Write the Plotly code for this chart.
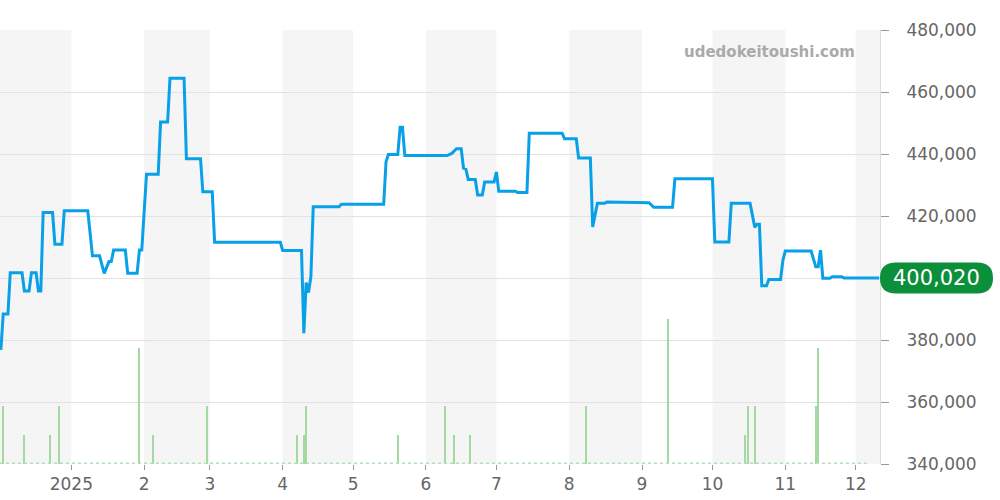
import plotly.graph_objects as go

# ---- price series (date, yen) ----
price_dates = [
    "2024-12-02", "2024-12-03", "2024-12-05", "2024-12-06", "2024-12-11", "2024-12-12",
    "2024-12-14", "2024-12-15", "2024-12-17", "2024-12-18", "2024-12-19", "2024-12-20",
    "2024-12-24", "2024-12-25", "2024-12-28", "2024-12-29", "2025-01-08", "2025-01-10",
    "2025-01-13", "2025-01-15", "2025-01-17", "2025-01-18", "2025-01-19", "2025-01-24",
    "2025-01-25", "2025-01-29", "2025-01-30", "2025-01-31", "2025-02-02", "2025-02-07",
    "2025-02-08", "2025-02-11", "2025-02-12", "2025-02-18", "2025-02-19", "2025-02-25",
    "2025-02-26", "2025-03-02", "2025-03-03", "2025-03-31", "2025-04-01", "2025-04-09",
    "2025-04-10", "2025-04-11", "2025-04-12", "2025-04-13", "2025-04-14", "2025-04-25",
    "2025-04-26", "2025-05-14", "2025-05-15", "2025-05-16", "2025-05-20", "2025-05-21",
    "2025-05-22", "2025-05-23", "2025-06-10", "2025-06-12", "2025-06-14", "2025-06-16",
    "2025-06-17", "2025-06-18", "2025-06-19", "2025-06-22", "2025-06-23", "2025-06-25",
    "2025-06-26", "2025-06-30", "2025-07-01", "2025-07-02", "2025-07-09", "2025-07-10",
    "2025-07-14", "2025-07-15", "2025-07-29", "2025-07-30", "2025-08-04", "2025-08-05",
    "2025-08-10", "2025-08-11", "2025-08-13", "2025-08-16", "2025-08-17", "2025-09-01",
    "2025-09-04", "2025-09-06", "2025-09-14", "2025-09-15", "2025-10-01", "2025-10-02",
    "2025-10-08", "2025-10-09", "2025-10-17", "2025-10-19", "2025-10-20", "2025-10-21",
    "2025-10-22", "2025-10-24", "2025-10-25", "2025-10-30", "2025-10-31", "2025-11-01",
    "2025-11-12", "2025-11-14", "2025-11-15", "2025-11-16", "2025-11-17", "2025-11-20",
    "2025-11-21", "2025-11-25", "2025-11-26", "2025-12-11",
]
price_values = [
    376800, 388400, 388400, 401700, 401700, 395800,
    395800, 401700, 401700, 395800, 395800, 421100,
    421100, 410900, 410900, 421700, 421700, 407200,
    407200, 401500, 405300, 405300, 409000, 409000,
    401500, 401500, 409000, 409000, 433500, 433500,
    450300, 450300, 464400, 464400, 438500, 438500,
    427800, 427800, 411500, 411500, 408900, 408900,
    382200, 398500, 395300, 400400, 423000, 423000,
    423800, 423800, 437500, 439800, 439800, 448600,
    448600, 439500, 439500, 440200, 441700, 441700,
    435400, 435100, 431800, 431800, 426800, 426800,
    431000, 431000, 434200, 428000, 428000, 427600,
    427600, 446700, 446700, 444900, 444900, 438700,
    438700, 416500, 424100, 424100, 424500, 424300,
    424300, 422800, 422800, 432000, 432000, 411600,
    411600, 424100, 424100, 416400, 417300, 417300,
    397500, 397500, 399500, 399500, 405800, 408700,
    408700, 403600, 403600, 409000, 399900, 399900,
    400400, 400400, 400020, 400020,
]

# ---- volume (number of listings) ----
volume_dates = [
    "2024-12-03", "2024-12-12", "2024-12-23", "2024-12-27", "2025-01-30", "2025-02-05",
    "2025-02-28", "2025-04-07", "2025-04-10", "2025-04-11", "2025-05-20", "2025-06-09",
    "2025-06-13", "2025-06-20", "2025-08-08", "2025-09-12", "2025-10-15", "2025-10-16",
    "2025-10-19", "2025-11-14", "2025-11-15",
]
volume_values = [2, 1, 1, 2, 4, 1, 2, 1, 1, 2, 1, 2, 1, 1, 2, 5, 1, 2, 2, 2, 4]

# ---- axes ----
month_ticks = ["2025-01-01", "2025-02-01", "2025-03-01", "2025-04-01", "2025-05-01", "2025-06-01",
               "2025-07-01", "2025-08-01", "2025-09-01", "2025-10-01", "2025-11-01", "2025-12-01"]
month_labels = ["2025", "2", "3", "4", "5", "6", "7", "8", "9", "10", "11", "12"]
shaded_starts = ["2024-12-01", "2025-02-01", "2025-04-01", "2025-06-01", "2025-08-01", "2025-10-01", "2025-12-01"]
shaded_ends = ["2025-01-01", "2025-03-01", "2025-05-01", "2025-07-01", "2025-09-01", "2025-11-01", "2026-01-01"]
y_ticks = [340000, 360000, 380000, 400000, 420000, 440000, 460000, 480000]
# the 400,000 label is hidden behind the last-price badge in the reference
y_labels = ["340,000", "360,000", "380,000", "", "420,000", "440,000", "460,000", "480,000"]
last_value = price_values[-1]
watermark = "udedokeitoushi.com"

FONT = "DejaVu Sans"

fig = go.Figure()
fig.add_trace(go.Bar(
    x=volume_dates, y=volume_values, yaxis="y2",
    marker=dict(color="#a3daa3", line=dict(width=0)),
    width=0.55 * 86400000, hoverinfo="skip",
))
fig.add_trace(go.Scatter(
    x=price_dates, y=price_values, mode="lines",
    line=dict(color="#08a0e6", width=3),
))

shapes = []
for s, e in zip(shaded_starts, shaded_ends):
    shapes.append(dict(type="rect", xref="x", yref="paper", x0=s, x1=e, y0=0, y1=1,
                       fillcolor="#f5f5f5", line=dict(width=0), layer="below"))
# dotted baseline of zero volume
shapes.append(dict(type="line", xref="paper", yref="y2", x0=0, x1=0.985, y0=0.03, y1=0.03,
                   line=dict(color="#b5e0b5", width=1.5, dash="dot"), layer="above"))
# pill for last price
shapes.append(dict(type="path", xref="paper", yref="y", xsizemode="pixel", ysizemode="pixel",
                   xanchor=1, yanchor=last_value,
                   path="M 16,-15.5 L 97,-15.5 Q 113,-15.5 113,0 Q 113,15.5 97,15.5 "
                        "L 16,15.5 Q 0,15.5 0,0 Q 0,-15.5 16,-15.5 Z",
                   fillcolor="#0b8f3a", line=dict(width=0), layer="above"))

fig.update_layout(
    width=1000, height=500,
    margin=dict(l=0, r=120, t=30, b=36),
    paper_bgcolor="white", plot_bgcolor="white",
    showlegend=False,
    bargap=0,
    font=dict(family=FONT, color="#666666", size=17),
    xaxis=dict(
        type="date",
        range=["2024-12-01 15:00", "2025-12-11 08:00"],
        tickmode="array", tickvals=month_ticks, ticktext=month_labels,
        ticks="outside", ticklen=5, tickcolor="#999999", tickwidth=1,
        showgrid=False, zeroline=False, showline=False,
        tickfont=dict(family=FONT, size=17, color="#666666"),
    ),
    yaxis=dict(
        side="right", range=[340000, 480000],
        tickmode="array", tickvals=y_ticks, ticktext=y_labels,
        ticks="outside", ticklen=8, tickcolor="#999999",
        showgrid=True, gridcolor="#e2e2e2", gridwidth=1,
        showline=True, linecolor="#dddddd", linewidth=1,
        zeroline=False, ticklabelstandoff=14,
        tickfont=dict(family=FONT, size=17, color="#666666"),
    ),
    yaxis2=dict(
        overlaying="y", range=[0, 15], visible=False, showgrid=False,
    ),
    shapes=shapes,
    annotations=[
        dict(text=watermark, xref="paper", yref="paper", x=0.9735, y=0.949,
             xanchor="right", yanchor="middle", showarrow=False,
             font=dict(family=FONT, size=15, color="#aaaaaa", weight="bold")),
        dict(text=f"{last_value:,}", xref="paper", yref="y", x=1, y=last_value,
             xanchor="center", yanchor="middle", xshift=56.5, showarrow=False,
             font=dict(family=FONT, size=21, color="white")),
    ],
)

fig.write_html("out.html", config={"displayModeBar": False},
               post_script="document.body.style.margin='0';")
